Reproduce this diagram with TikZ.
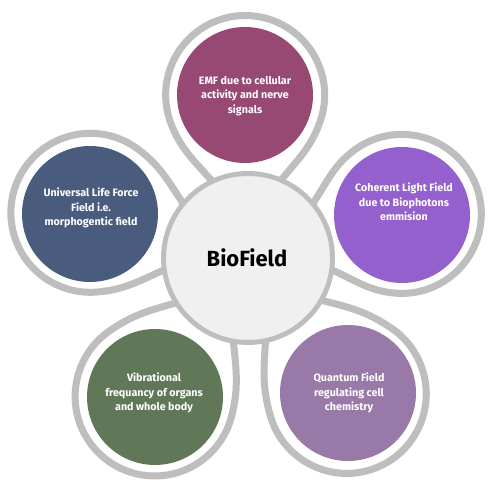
\documentclass[tikz,border=0pt]{standalone}
\usepackage{fontspec}
\setmainfont{Fira Sans}
\usetikzlibrary{calc}
\definecolor{ringgray}{HTML}{BFBEBF}
\definecolor{corefill}{HTML}{F0F0F0}
\definecolor{emfcol}{HTML}{974873}
\definecolor{lifecol}{HTML}{4A5C7E}
\definecolor{lightcol}{HTML}{9360CD}
\definecolor{vibcol}{HTML}{607858}
\definecolor{quantcol}{HTML}{9879A7}
\tikzset{
  petal ring/.style={
    draw=ringgray, line width=4pt, fill=white, line join=round
  },
  petal dot/.style={
    circle, draw=none, inner sep=0pt, minimum size=2.72cm
  },
  petal label/.style={
    text=white, align=center, inner sep=0pt,
    font=\bfseries\fontsize{6.1}{8.3}\selectfont
  },
  core/.style={
    circle, draw=ringgray, line width=2.8pt, fill=corefill,
    inner sep=0pt, minimum size=3.38cm
  }
}

\begin{document}
\begin{tikzpicture}[x=0.02cm, y=0.02cm]
\useasboundingbox (0,0) rectangle (500,500);

% ------------------------------------------------
% 外圈：五个花瓣的灰色轮廓
% ------------------------------------------------
\begin{scope}[shift={(248,242)}]
  \foreach \ang/\dist in {91/163, 164/164, 16/160, 236/167, 306/168}{
    \draw[petal ring]
      (\ang-24:84.5) to[out=\ang-40, in=\ang+160]
      ($(\ang:\dist)+(\ang-110:79.5)$)
      arc[start angle=\ang-110, end angle=\ang+110, radius=79.5]
      to[out=\ang-160, in=\ang+40] (\ang+24:84.5) -- cycle;
  }
\end{scope}

% ------------------------------------------------
% 中心圆
% ------------------------------------------------
\node[core] (core) at (248,242) {};
\node[font=\bfseries\fontsize{12.5}{15}\selectfont] (core label) at (247,242) {BioField};

% ------------------------------------------------
% 五个彩色圆
% ------------------------------------------------
\node[petal dot, fill=emfcol]   (emf)   at (245,405) {};
\node[petal dot, fill=lifecol]  (life)  at ( 90,286) {};
\node[petal dot, fill=lightcol] (light) at (402,285) {};
\node[petal dot, fill=vibcol]   (vib)   at (155,103) {};
\node[petal dot, fill=quantcol] (quant) at (348,107) {};

\node[petal label] (emf label)   at (245,404) {EMF due to cellular\\activity and nerve\\signals};
\node[petal label] (life label)  at ( 91,292) {Universal Life Force\\Field i.e.\\morphogentic field};
\node[petal label] (light label) at (404,298) {Coherent Light Field\\due to Biophotons\\emmision};
\node[petal label] (vib label)   at (154,107) {Vibrational\\frequancy of organs\\and whole body};
\node[petal label] (quant label) at (349,107) {Quantum Field\\regulating cell\\chemistry};
\end{tikzpicture}
\end{document}
